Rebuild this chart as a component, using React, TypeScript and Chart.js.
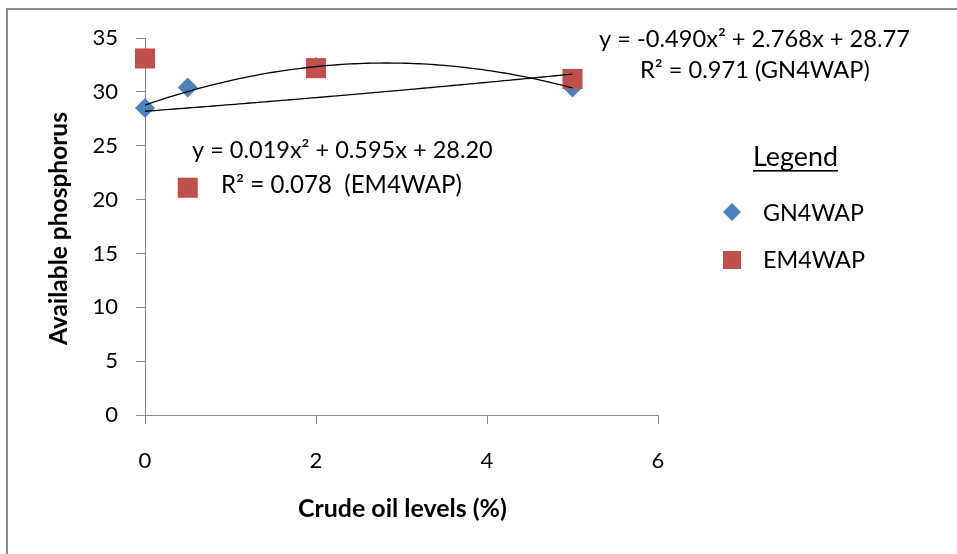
import React, { useEffect, useRef } from "react";
import { Chart, registerables } from "chart.js";

Chart.register(...registerables);

// ---- data ----
const gnX = [0, 0.5, 2, 5];
const gnY = [28.5, 30.4, 32.3, 30.4];
const emX = [0, 0.5, 2, 5];
const emY = [33.1, 21.1, 32.2, 31.2];
// trendline coefficients (a, b, c) shown on the chart: y = a x^2 + b x + c
const gnFit = [-0.49, 2.768, 28.77];
const emFit = [0.019, 0.595, 28.2];
const fitRange = [0, 5];
const xTicks = [0, 2, 4, 6];
const yTicks = [0, 5, 10, 15, 20, 25, 30, 35];

const gnEquation = "y = -0.490x\u00B2 + 2.768x + 28.77";
const gnR2 = "R\u00B2 = 0.971 (GN4WAP)";
const emEquation = "y = 0.019x\u00B2 + 0.595x + 28.20";
const emR2 = "R\u00B2 = 0.078  (EM4WAP)";
const legendTitle = "Legend";
const seriesNames = ["GN4WAP", "EM4WAP"];
const xTitle = "Crude oil levels (%)";
const yTitle = "Available phosphorus";

const BLUE = "#4F81BD";
const RED = "#C0504D";
const AXIS = "#868686";
const FONT = "Lato, 'Open Sans', sans-serif";

function curve(coef: number[]) {
  const pts: { x: number; y: number }[] = [];
  const n = 100;
  for (let i = 0; i <= n; i++) {
    const x = fitRange[0] + ((fitRange[1] - fitRange[0]) * i) / n;
    pts.push({ x, y: coef[0] * x * x + coef[1] * x + coef[2] });
  }
  return pts;
}

function fitText(
  ctx: CanvasRenderingContext2D,
  text: string,
  x: number,
  y: number,
  width: number,
  weight: string
) {
  ctx.font = `${weight} 100px ${FONT}`;
  const w = ctx.measureText(text).width;
  const size = (100 * width) / w;
  ctx.font = `${weight} ${size}px ${FONT}`;
  ctx.fillText(text, x, y);
}

const overlay = {
  id: "overlay",
  afterDraw(chart: any) {
    const ctx: CanvasRenderingContext2D = chart.ctx;
    ctx.save();
    // outer frame
    ctx.strokeStyle = "#8a8a8a";
    ctx.lineWidth = 2;
    ctx.beginPath();
    ctx.moveTo(7, 560);
    ctx.lineTo(7, 9);
    ctx.lineTo(960, 9);
    ctx.stroke();

    ctx.fillStyle = "#000";
    ctx.textBaseline = "alphabetic";
    ctx.textAlign = "left";
    fitText(ctx, gnEquation, 599, 46.5, 311, "normal");
    fitText(ctx, gnR2, 640, 78, 230, "normal");
    fitText(ctx, emEquation, 192, 158, 301, "normal");
    fitText(ctx, emR2, 221, 193, 241, "normal");

    // legend
    fitText(ctx, legendTitle, 753, 166, 85, "normal");
    ctx.fillRect(753, 170, 85, 1.6);
    fitText(ctx, seriesNames[0], 763, 221, 101, "normal");
    fitText(ctx, seriesNames[1], 763, 268, 102, "normal");
    ctx.fillStyle = BLUE;
    ctx.beginPath();
    ctx.moveTo(723, 212);
    ctx.lineTo(732, 203);
    ctx.lineTo(741, 212);
    ctx.lineTo(732, 221);
    ctx.closePath();
    ctx.fill();
    ctx.fillStyle = RED;
    ctx.fillRect(723, 251, 18, 18);

    // axis titles
    ctx.fillStyle = "#000";
    fitText(ctx, xTitle, 298, 517, 209, "bold");
    ctx.translate(67, 345);
    ctx.rotate(-Math.PI / 2);
    fitText(ctx, yTitle, 0, 0, 233, "bold");
    ctx.restore();
  },
};

export default function App() {
  const ref = useRef<HTMLCanvasElement>(null);
  useEffect(() => {
    document.body.style.margin = "0";
    const canvas = ref.current!;
    const chart = new Chart(canvas, {
      type: "scatter",
      data: {
        datasets: [
          {
            label: "GN fit",
            data: curve(gnFit),
            showLine: true,
            borderColor: "#000",
            borderWidth: 1.3,
            pointRadius: 0,
            fill: false,
            clip: false,
            order: 0,
          },
          {
            label: "EM fit",
            data: curve(emFit),
            showLine: true,
            borderColor: "#000",
            borderWidth: 1.3,
            pointRadius: 0,
            fill: false,
            clip: false,
            order: 1,
          },
          {
            label: seriesNames[1],
            data: emX.map((x, i) => ({ x, y: emY[i] })),
            pointStyle: "rect",
            pointRadius: 14.2,
            backgroundColor: RED,
            borderColor: RED,
            borderWidth: 0,
            clip: false,
            order: 2,
          },
          {
            label: seriesNames[0],
            data: gnX.map((x, i) => ({ x, y: gnY[i] })),
            pointStyle: "rectRot",
            pointRadius: 10,
            backgroundColor: BLUE,
            borderColor: BLUE,
            borderWidth: 0,
            clip: false,
            order: 3,
          },
        ],
      },
      options: {
        responsive: false,
        animation: false,
        layout: { padding: { left: 0, top: 38, right: 299, bottom: 0 } },
        plugins: {
          legend: { display: false },
          tooltip: { enabled: false },
          title: { display: false },
        },
        scales: {
          x: {
            type: "linear",
            min: 0,
            max: 6,
            afterBuildTicks: (s: any) => {
              s.ticks = xTicks.map((v) => ({ value: v }));
            },
            afterFit: (s: any) => {
              s.height = 139;
            },
            ticks: {
              color: "#000",
              font: { family: FONT, size: 22 },
              padding: 24,
              maxRotation: 0,
            },
            grid: {
              drawOnChartArea: false,
              drawTicks: true,
              tickLength: 9,
              color: AXIS,
            },
            border: { color: AXIS, width: 1 },
          },
          y: {
            type: "linear",
            min: 0,
            max: 35,
            afterBuildTicks: (s: any) => {
              s.ticks = yTicks.map((v) => ({ value: v }));
            },
            afterFit: (s: any) => {
              s.width = 145;
            },
            ticks: {
              color: "#000",
              font: { family: FONT, size: 22 },
              padding: 18,
            },
            grid: {
              drawOnChartArea: false,
              drawTicks: true,
              tickLength: 9,
              color: AXIS,
            },
            border: { color: AXIS, width: 1 },
          },
        },
      },
      plugins: [overlay],
    });
    return () => chart.destroy();
  }, []);
  return (
    <div style={{ width: 957, height: 554, background: "#fff" }}>
      <canvas ref={ref} width={957} height={554} style={{ display: "block" }} />
    </div>
  );
}
